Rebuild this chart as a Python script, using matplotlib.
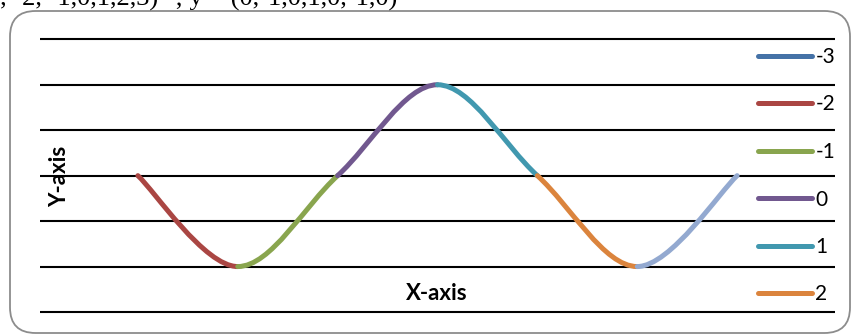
import matplotlib
matplotlib.use("Agg")
import matplotlib.pyplot as plt
from matplotlib.path import Path
from matplotlib.patches import PathPatch, FancyBboxPatch
from matplotlib.lines import Line2D

# data
categories = ['-3', '-2', '-1', '0', '1', '2', '3']
x_values = [-3, -2, -1, 0, 1, 2, 3]
y_values = [0, -1, 0, 1, 0, -1, 0]
grid_values = [-1.5, -1.0, -0.5, 0.0, 0.5, 1.0, 1.5]

# excel style series colours
colors = ['#4572A7', '#AA4643', '#89A54E', '#71588F', '#4198AF', '#DB843D', '#93A9D0']

W, H = 852, 336


def smooth_segment(i):
    # catmull-rom style bezier like excel "smoothed line"
    n = len(x_values)
    p0 = (x_values[i], y_values[i])
    p3 = (x_values[i + 1], y_values[i + 1])
    prev = (x_values[i - 1], y_values[i - 1]) if i > 0 else p0
    nxt = (x_values[i + 2], y_values[i + 2]) if i + 2 < n else p3
    c1 = (p0[0] + (p3[0] - prev[0]) / 6, p0[1] + (p3[1] - prev[1]) / 6)
    c2 = (p3[0] - (nxt[0] - p0[0]) / 6, p3[1] - (nxt[1] - p0[1]) / 6)
    return Path([p0, c1, c2, p3], [Path.MOVETO, Path.CURVE4, Path.CURVE4, Path.CURVE4])


def main():
    fig = plt.figure(figsize=(W / 100, H / 100), dpi=100)

    # rounded chart border
    border = FancyBboxPatch((10 / W, 3 / H), 840 / W, 322 / H,
                            boxstyle="round,pad=0,rounding_size=0.03",
                            transform=fig.transFigure, fill=False,
                            edgecolor='#8c8c8c', lw=1.3, mutation_aspect=W / H)
    fig.patches.append(border)

    # cut off caption above the chart
    fig.text(397 / W, 1 - 6 / H, 'x = (-3, -2, -1,0,1,2,3)" ; y = (0,-1,0,1,0,-1,0)',
             ha='right', va='baseline', family='Liberation Serif', fontsize=19)

    pad = 0.03
    top_px, bot_px = 39.3 - 91 * pad, 312 + 91 * pad
    ax = fig.add_axes([40 / W, 1 - bot_px / H, 795 / W, (bot_px - top_px) / H])
    ax.set_xlim(-3.98, 3.98)
    ax.set_ylim(-1.5 - pad, 1.5 + pad)
    for s in ax.spines.values():
        s.set_visible(False)
    ax.set_xticks([])
    ax.set_yticks([])
    for g in grid_values:
        ax.axhline(g, color='black', lw=1.5, zorder=1)

    for i in range(len(x_values) - 1):
        patch = PathPatch(smooth_segment(i), fill=False, edgecolor=colors[i + 1],
                          lw=3.6, capstyle='round', zorder=2 + i)
        ax.add_patch(patch)

    fig.text(437 / W, 1 - 293 / H, 'X-axis', ha='center', va='center',
             family='Lato', fontweight='bold', fontsize=16)
    fig.text(60 / W, 1 - 176 / H, 'Y-axis', ha='center', va='center', rotation=90,
             family='Lato', fontweight='bold', fontsize=16)

    # only the first six entries fit inside the chart box
    handles = [Line2D([], [], color=c, lw=3.6, solid_capstyle='round') for c in colors]
    fig.legend(handles[:6], categories[:6], loc='upper left',
               bbox_to_anchor=(758 / W, 1 - 47 / H), frameon=False,
               prop={'family': 'Lato', 'size': 15}, handlelength=2.6,
               handletextpad=0.15, labelspacing=1.32, borderpad=0, borderaxespad=0)

    plt.savefig('out.png', dpi=100)


if __name__ == '__main__':
    main()
